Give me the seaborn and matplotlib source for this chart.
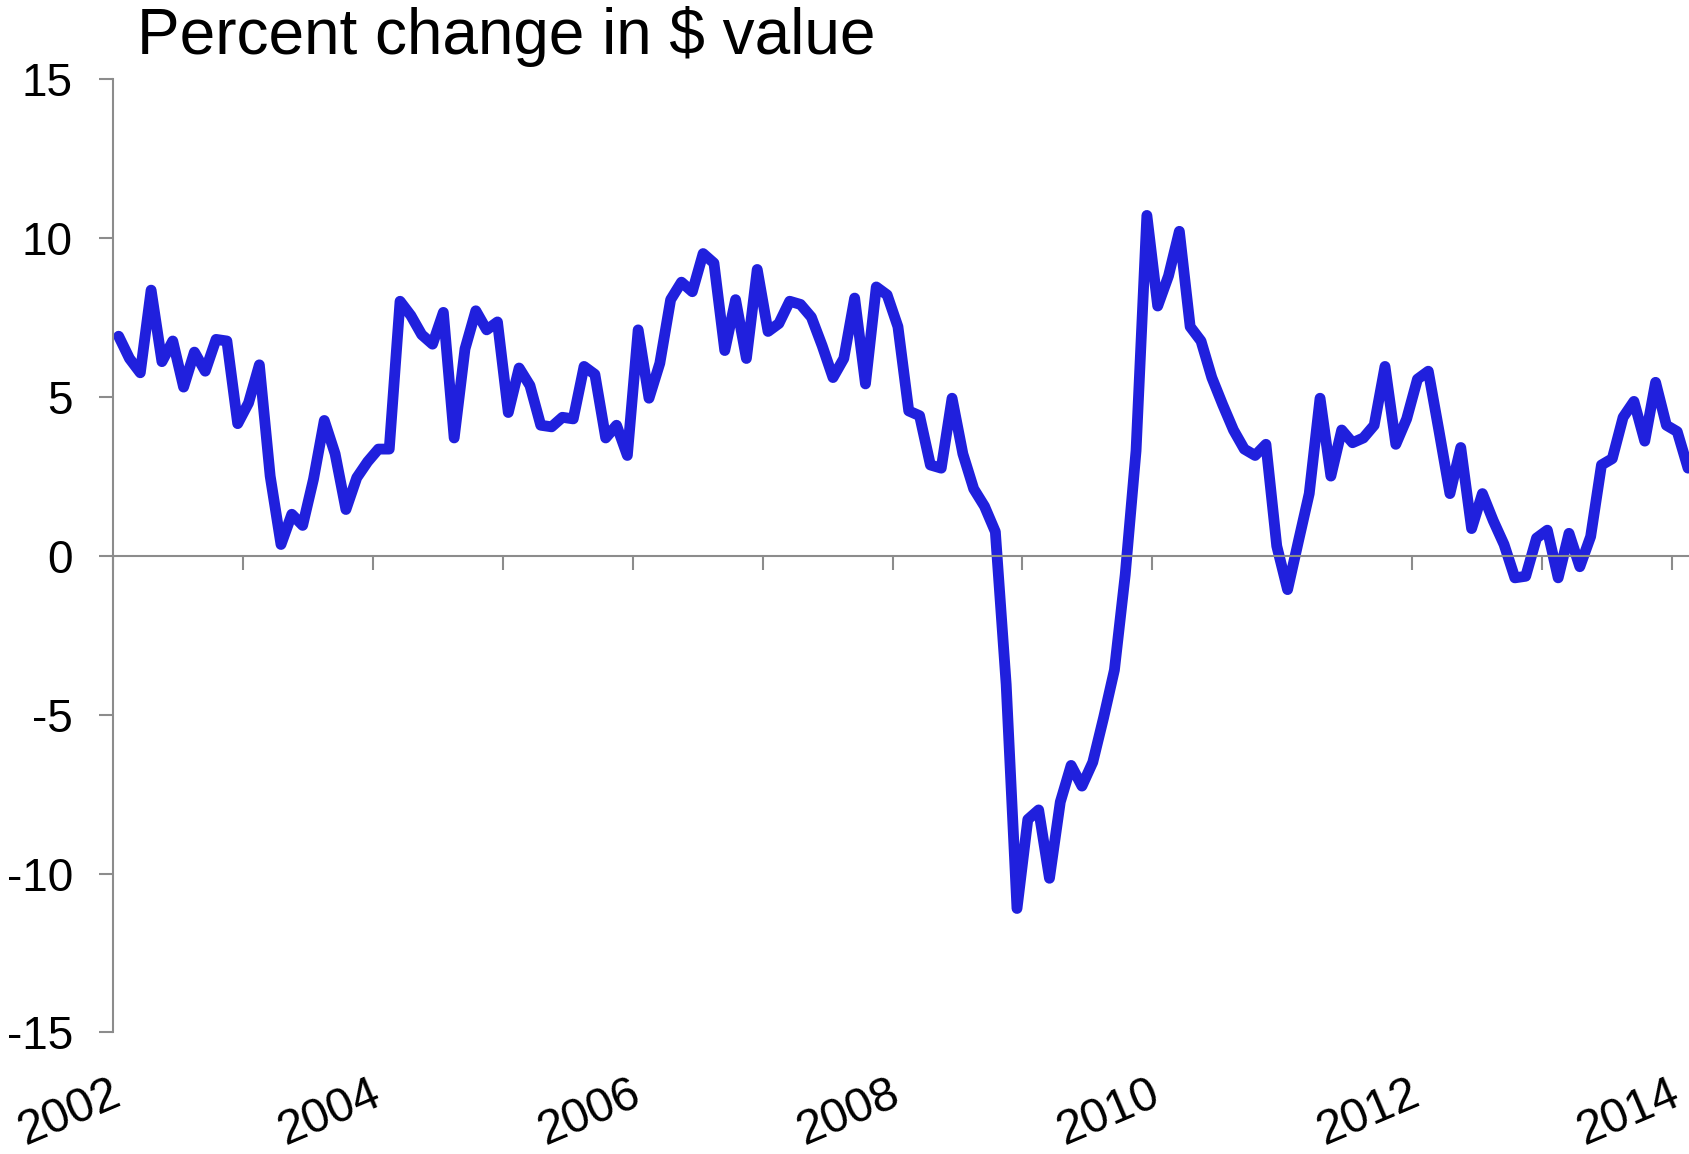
import numpy as np
import pandas as pd
import matplotlib
matplotlib.use("Agg")
import matplotlib.pyplot as plt
import matplotlib.transforms as mtransforms
import seaborn as sns

# monthly percent change in $ value, Jan 2002 .. Feb 2014
y2002 = [6.9, 6.2, 5.75, 8.35, 6.1, 6.75, 5.3, 6.4, 5.8, 6.8, 6.75, 4.15]
y2003 = [4.8, 6.0, 2.5, 0.35, 1.3, 0.95, 2.4, 4.25, 3.2, 1.45, 2.45, 2.95]
y2004 = [3.35, 3.35, 8.0, 7.55, 6.95, 6.65, 7.65, 3.7, 6.5, 7.7, 7.1, 7.35]
y2005 = [4.5, 5.9, 5.35, 4.1, 4.05, 4.35, 4.3, 5.95, 5.7, 3.7, 4.1, 3.15]
y2006 = [7.1, 4.95, 6.05, 8.05, 8.6, 8.3, 9.5, 9.2, 6.45, 8.05, 6.2, 9.0]
y2007 = [7.05, 7.3, 8.0, 7.9, 7.5, 6.6, 5.6, 6.2, 8.1, 5.4, 8.45, 8.2]
y2008 = [7.2, 4.55, 4.4, 2.85, 2.75, 4.95, 3.2, 2.1, 1.55, 0.75, -4.05, -11.1]
y2009 = [-8.3, -8.0, -10.15, -7.75, -6.6, -7.25, -6.5, -5.1, -3.6, -0.6, 3.3, 10.7]
y2010 = [7.85, 8.8, 10.2, 7.2, 6.75, 5.6, 4.75, 3.95, 3.35, 3.15, 3.5, 0.3]
y2011 = [-1.07, 0.45, 1.95, 4.95, 2.5, 3.95, 3.55, 3.7, 4.1, 5.95, 3.5, 4.3]
y2012 = [5.55, 5.8, 3.9, 1.95, 3.4, 0.85, 1.95, 1.1, 0.35, -0.7, -0.65, 0.55]
y2013 = [0.8, -0.7, 0.7, -0.35, 0.6, 2.85, 3.05, 4.35, 4.85, 3.6, 5.45, 4.1]
y2014 = [3.9, 2.75]

values = (y2002 + y2003 + y2004 + y2005 + y2006 + y2007 + y2008 + y2009
          + y2010 + y2011 + y2012 + y2013 + y2014)

year_labels = [2002, 2004, 2006, 2008, 2010, 2012, 2014]
y_ticks = [-15, -10, -5, 0, 5, 10, 15]

# mid-month positions in decimal years
months = np.arange(len(values))
df = pd.DataFrame({"year": 2002 + (months + 0.5) / 12, "pct": values})

sns.set_style("ticks")
plt.rcParams["font.family"] = ["Liberation Sans", "DejaVu Sans"]
plt.rcParams["axes.unicode_minus"] = False
plt.rcParams["text.color"] = "black"

fig = plt.figure(figsize=(16.9, 11.54), dpi=100)
ax = fig.add_axes([0.067, 0.1053, 0.933, 0.8265])

sns.lineplot(data=df, x="year", y="pct", ax=ax, color="#2020DD", linewidth=7.8)

ax.set_xlim(2002, 2014.14)
ax.set_ylim(-15, 15)
ax.set_xlabel("")
ax.set_ylabel("")

grey = "#8c8c8c"
ax.spines["top"].set_visible(False)
ax.spines["right"].set_visible(False)
ax.spines["bottom"].set_position(("data", 0))
for s in ["bottom", "left"]:
    ax.spines[s].set_color(grey)
    ax.spines[s].set_linewidth(1.5)

ax.set_xticks(range(2002, 2015))
ax.set_yticks(y_ticks)
ax.tick_params(axis="x", length=10, width=1.5, color=grey, labelbottom=False)
ax.tick_params(axis="y", length=10, width=1.5, color=grey, pad=19,
               labelsize=33, labelcolor="black")

# year labels sit below the plot, rotated
trans = mtransforms.blended_transform_factory(ax.transData, ax.transAxes)
for yr in year_labels:
    ax.text(yr + 0.11, -0.041, str(yr), transform=trans, rotation=23,
            ha="right", va="top", fontsize=34.5, color="black", clip_on=False)

fig.text(137 / 1690, 1 - 54 / 1154, "Percent change in $ value",
         fontsize=46, color="black", ha="left", va="baseline")

fig.savefig("out.png", dpi=100)
